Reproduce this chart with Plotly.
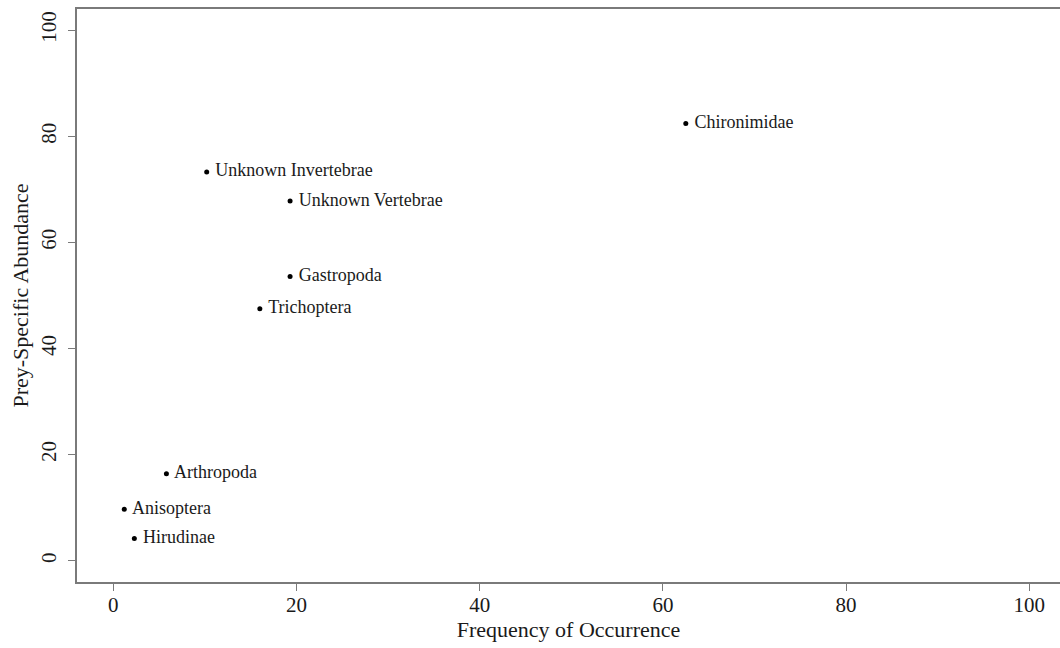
import plotly.graph_objects as go

# Prey taxa with frequency of occurrence (%) and prey-specific abundance (%)
taxa = ["Chironimidae", "Unknown Invertebrae", "Unknown Vertebrae", "Gastropoda",
        "Trichoptera", "Arthropoda", "Anisoptera", "Hirudinae"]
freq_occurrence = [62.5, 10.2, 19.3, 19.3, 16.0, 5.8, 1.2, 2.3]
prey_abundance = [82.4, 73.3, 67.8, 53.6, 47.5, 16.4, 9.7, 4.2]

tick_vals = [0, 20, 40, 60, 80, 100]
tick_text = ["0", "20", "40", "60", "80", "100"]

serif = "Liberation Serif"
axis_grey = "#7a7a7a"
ink = "#1a1a1a"

fig = go.Figure(
    go.Scatter(
        x=freq_occurrence,
        y=prey_abundance,
        mode="markers+text",
        text=taxa,
        texttemplate=" %{text}",
        textposition="middle right",
        marker=dict(color="black", size=5),
        textfont=dict(family=serif, size=18, color=ink),
        cliponaxis=False,
        hoverinfo="skip",
    )
)

fig.update_layout(
    width=1060,
    height=648,
    margin=dict(l=77, r=0, t=9, b=66),
    paper_bgcolor="white",
    plot_bgcolor="white",
    showlegend=False,
    font=dict(family=serif, color=ink),
    xaxis=dict(
        range=[-3.96, 103.35],
        tickvals=tick_vals,
        ticktext=tick_text,
        ticks="outside",
        ticklen=7,
        tickcolor=axis_grey,
        ticklabelstandoff=-4,
        tickfont=dict(family=serif, size=21, color=ink),
        showline=True,
        linecolor=axis_grey,
        linewidth=1.5,
        mirror=True,
        showgrid=False,
        zeroline=False,
        title=dict(text="Frequency of Occurrence", font=dict(family=serif, size=22, color=ink), standoff=5),
    ),
    yaxis=dict(
        range=[-4, 104],
        tickvals=tick_vals,
        ticktext=tick_text,
        tickangle=-90,
        ticks="outside",
        ticklen=7,
        tickcolor=axis_grey,
        ticklabelstandoff=4,
        tickfont=dict(family=serif, size=21, color=ink),
        showline=True,
        linecolor=axis_grey,
        linewidth=1.5,
        mirror=False,
        showgrid=False,
        zeroline=False,
        title=dict(text="Prey-Specific Abundance", font=dict(family=serif, size=22, color=ink), standoff=2),
    ),
)

fig.write_html("out.html")
